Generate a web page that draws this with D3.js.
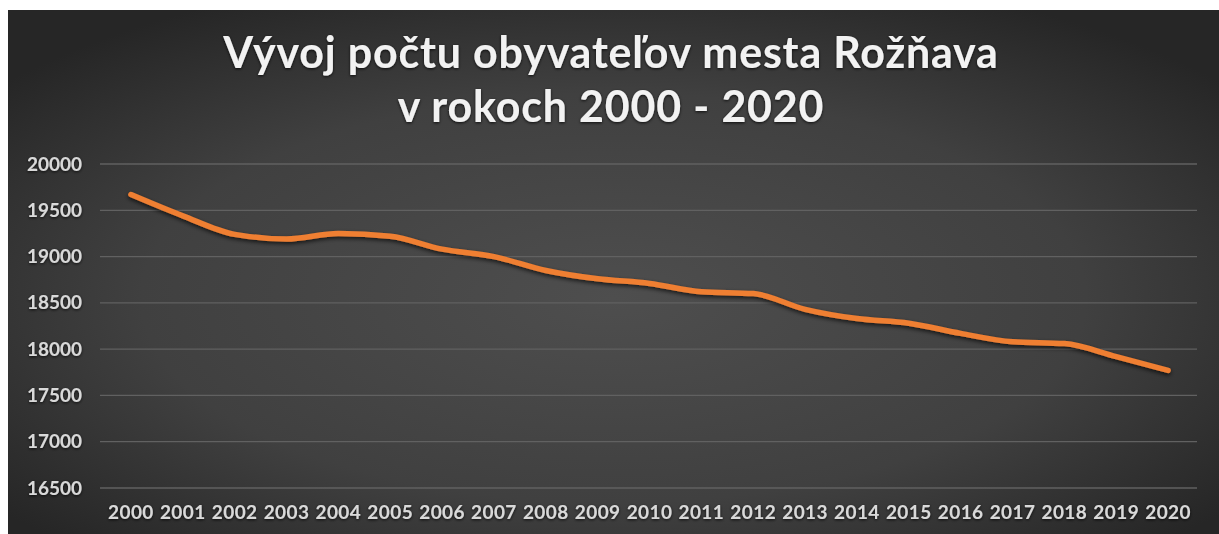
<!DOCTYPE html>
<html><head><meta charset="utf-8">
<script src="https://cdn.jsdelivr.net/npm/d3@7"></script>
<style>html,body{margin:0;padding:0;background:#fff;}svg{display:block;}</style>
</head><body>
<script>
const years = ["2000","2001","2002","2003","2004","2005","2006","2007","2008","2009","2010","2011","2012","2013","2014","2015","2016","2017","2018","2019","2020"];
const population = [19670,19440,19240,19190,19250,19220,19080,19000,18850,18760,18710,18620,18600,18430,18330,18280,18170,18080,18060,17920,17770];
const yTicks = [16500,17000,17500,18000,18500,19000,19500,20000];
const titleLines = ["Vývoj počtu obyvateľov mesta Rožňava","v rokoch 2000 - 2020"];

const W = 1219, H = 534;
const svg = d3.select("body").append("svg").attr("width", W).attr("height", H);
const defs = svg.append("defs");
const grad = defs.append("radialGradient").attr("id","bg").attr("cx","50%").attr("cy","55%").attr("r","65%");
grad.append("stop").attr("offset","0%").attr("stop-color","#4e4e4e");
grad.append("stop").attr("offset","60%").attr("stop-color","#404040");
grad.append("stop").attr("offset","100%").attr("stop-color","#262626");
const sh = defs.append("filter").attr("id","shadow").attr("x","-10%").attr("y","-50%").attr("width","120%").attr("height","200%");
sh.append("feDropShadow").attr("dx",0).attr("dy",2).attr("stdDeviation",2).attr("flood-color","#000").attr("flood-opacity",0.7);
const tsh = defs.append("filter").attr("id","tshadow").attr("x","-10%").attr("y","-30%").attr("width","120%").attr("height","160%");
tsh.append("feDropShadow").attr("dx",0).attr("dy",1).attr("stdDeviation",1.5).attr("flood-color","#000").attr("flood-opacity",0.8);

svg.append("rect").attr("x",8).attr("y",10).attr("width",W-8).attr("height",H-10).attr("fill","url(#bg)");

const x = d3.scaleBand().domain(years).range([105,1194]);
const y = d3.scaleLinear().domain([16500,20000]).range([488,164]);

// gridlines
svg.append("g").selectAll("line").data(yTicks).join("line")
  .attr("x1",100).attr("x2",1197)
  .attr("y1",d=>y(d)).attr("y2",d=>y(d))
  .attr("stroke","#616161").attr("stroke-width",1.3);

// y axis
const yAxis = svg.append("g").attr("transform","translate(88,0)")
  .call(d3.axisLeft(y).tickValues(yTicks).tickSize(0).tickPadding(6).tickFormat(d3.format("d")));
yAxis.select(".domain").remove();
yAxis.selectAll("text").attr("fill","#d9d9d9").attr("font-family","Lato, 'Open Sans', sans-serif")
  .attr("font-weight","bold").attr("font-size","19px").attr("filter","url(#tshadow)");

// x axis
const xAxis = svg.append("g").attr("transform","translate(0,500)")
  .call(d3.axisBottom(x).tickSize(0).tickPadding(5));
xAxis.select(".domain").remove();
xAxis.selectAll("text").attr("fill","#d9d9d9").attr("font-family","Lato, 'Open Sans', sans-serif")
  .attr("font-weight","bold").attr("font-size","19px").attr("letter-spacing","0.4px").attr("filter","url(#tshadow)");

// line
const line = d3.line().x((d,i)=>x(years[i])+x.bandwidth()/2).y(d=>y(d)).curve(d3.curveMonotoneX);
svg.append("path").datum(population).attr("d",line)
  .attr("fill","none").attr("stroke","#ef7f33").attr("stroke-width",5.5)
  .attr("stroke-linecap","round").attr("stroke-linejoin","round").attr("filter","url(#shadow)");

// title
const title = svg.append("text").attr("text-anchor","middle")
  .attr("font-family","Lato, 'Open Sans', sans-serif").attr("font-weight","bold")
  .attr("font-size","43px").attr("letter-spacing","0.8px").attr("fill","#f2f2f2").attr("filter","url(#tshadow)");
title.selectAll("tspan").data(titleLines).join("tspan")
  .attr("x",611).attr("y",(d,i)=>i===0?68:122).text(d=>d);
</script>
</body></html>
